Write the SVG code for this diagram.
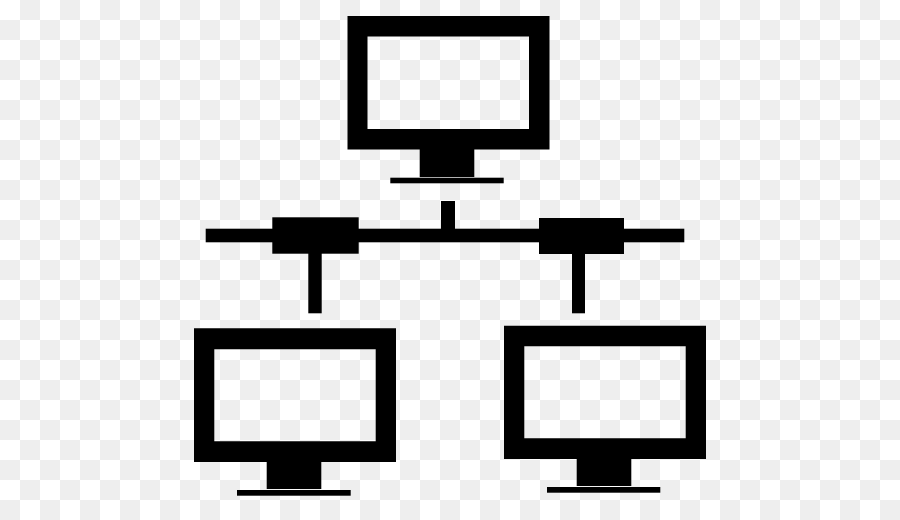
<svg xmlns="http://www.w3.org/2000/svg" width="900" height="520" viewBox="0 0 900 520">
<defs>
<pattern id="checker" width="40" height="40" patternUnits="userSpaceOnUse">
<rect width="40" height="40" fill="#ffffff"/>
<rect x="20" y="0" width="20" height="20" fill="#eeeeee"/>
<rect x="0" y="20" width="20" height="20" fill="#eeeeee"/>
</pattern>
</defs>
<style>.k{fill:#000000}</style>
<rect id="background" width="900" height="520" fill="url(#checker)"/>
<g id="connectors">
<rect class="k" x="205.7" y="228.7" width="478.6" height="13.6"/>
<rect class="k" x="441" y="201" width="14" height="30"/>
<rect class="k" x="308.3" y="250" width="13.4" height="63.3"/>
<rect class="k" x="572" y="250" width="13" height="63.3"/>
</g>
<g id="hub-left"><rect class="k" x="272.3" y="217.3" width="86.4" height="36.4"/></g>
<g id="hub-right"><rect class="k" x="539" y="218" width="85" height="36"/></g>
<g id="monitor-top">
<path class="k" fill-rule="evenodd" d="M347.5 16H549.5V149.5H347.5ZM367.5 36.5V129H529V36.5Z"/>
<rect class="k" x="419.7" y="149" width="54.6" height="28"/>
<rect class="k" x="390.3" y="177.7" width="113.4" height="5.6"/>
</g>
<g id="monitor-left">
<path class="k" fill-rule="evenodd" d="M194 328.3H396V462H194ZM214.3 349.3V441.3H375.7V349.3Z"/>
<rect class="k" x="266.7" y="461" width="54.6" height="28"/>
<rect class="k" x="237" y="490" width="113.7" height="5.7"/>
</g>
<g id="monitor-right">
<path class="k" fill-rule="evenodd" d="M504 325.7H706V459H504ZM524.3 346.3V438.3H685.7V346.3Z"/>
<rect class="k" x="576.7" y="458" width="54.6" height="28"/>
<rect class="k" x="547" y="487" width="113.3" height="5.7"/>
</g>
</svg>
